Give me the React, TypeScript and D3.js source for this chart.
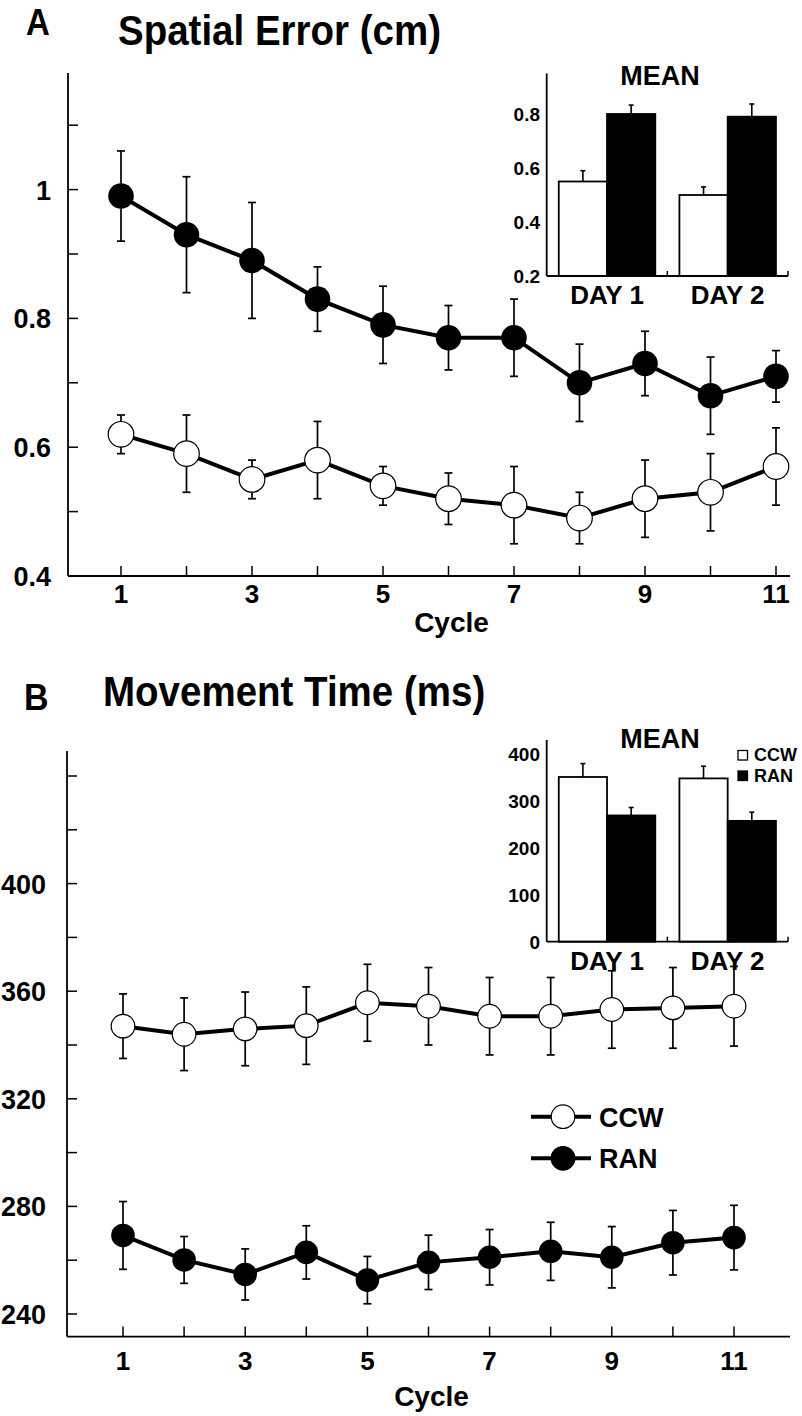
import React from "react";
import * as d3 from "d3";

// ---------- data ----------
const cycles = [1, 2, 3, 4, 5, 6, 7, 8, 9, 10, 11];
const cycleTickLabels = [1, 3, 5, 7, 9, 11];

// Panel A: spatial error (cm)
const errCCW = [0.62, 0.59, 0.55, 0.58, 0.54, 0.52, 0.51, 0.49, 0.52, 0.53, 0.57];
const errCCWSE = [0.03, 0.06, 0.03, 0.06, 0.03, 0.04, 0.06, 0.04, 0.06, 0.06, 0.06];
const errRAN = [0.99, 0.93, 0.89, 0.83, 0.79, 0.77, 0.77, 0.70, 0.73, 0.68, 0.71];
const errRANSE = [0.07, 0.09, 0.09, 0.05, 0.06, 0.05, 0.06, 0.06, 0.05, 0.06, 0.04];
const errYTicks = [0.4, 0.5, 0.6, 0.7, 0.8, 0.9, 1.0, 1.1];
const errYLabels = [0.4, 0.6, 0.8, 1.0];

// Panel A inset: mean per day
const days = ["DAY 1", "DAY 2"];
const errMeanCCW = [0.55, 0.5];
const errMeanCCWSE = [0.04, 0.03];
const errMeanRAN = [0.8, 0.79];
const errMeanRANSE = [0.033, 0.047];
const errInsetTicks = [0.2, 0.4, 0.6, 0.8];

// Panel B: movement time (ms)
const mtCCW = [347, 344, 346, 347.2, 355.7, 354.4, 350.7, 350.7, 353.2, 353.8, 354.4];
const mtCCWSE = [12, 13.5, 13.7, 14.4, 14.3, 14.4, 14.4, 14.4, 14.4, 15, 14.8];
const mtRAN = [269.2, 260.1, 254.7, 262.9, 252.6, 259.2, 261.1, 263.3, 261.1, 266.5, 268.4];
const mtRANSE = [12.6, 8.7, 9.5, 9.9, 8.8, 10.1, 10.3, 10.8, 11.4, 12, 12];
const mtYTicks = [240, 260, 280, 300, 320, 340, 360, 380, 400, 420, 440];
const mtYLabels = [240, 280, 320, 360, 400];

// Panel B inset
const mtMeanCCW = [351, 348];
const mtMeanCCWSE = [28.6, 26];
const mtMeanRAN = [269, 257.5];
const mtMeanRANSE = [17, 18.5];
const mtInsetTicks = [0, 100, 200, 300, 400];

const legendLabels = ["CCW", "RAN"];

const FONT = "'Liberation Sans', Arial, Helvetica, sans-serif";

type PanelProps = {
  x: d3.ScaleLinear<number, number>;
  y: d3.ScaleLinear<number, number>;
  axisLeft: number;
  axisRight: number;
  axisTopVal: number;
  axisBottomVal: number;
  yTicks: number[];
  yLabels: number[];
  fmt: (v: number) => string;
  labelRight: number;
  ccw: number[];
  ccwSE: number[];
  ran: number[];
  ranSE: number[];
  r: number;
  tickBaseline: number;
  cycleBaseline: number;
};

function LinePanel(p: PanelProps) {
  const yB = p.y(p.axisBottomVal);
  const yT = p.y(p.axisTopVal);
  const line = (vals: number[]) =>
    d3
      .line<number>()
      .x((_, i) => p.x(cycles[i]))
      .y((d) => p.y(d))(vals) || "";
  const errBars = (vals: number[], se: number[], key: string) =>
    vals.map((v, i) => {
      const cx = p.x(cycles[i]);
      const y1 = p.y(v + se[i]);
      const y2 = p.y(v - se[i]);
      return (
        <g key={key + i} stroke="#000" strokeWidth={1.7}>
          <line x1={cx} x2={cx} y1={y1} y2={y2} />
          <line x1={cx - 4} x2={cx + 4} y1={y1} y2={y1} />
          <line x1={cx - 4} x2={cx + 4} y1={y2} y2={y2} />
        </g>
      );
    });
  return (
    <g>
      {/* axes */}
      <line x1={p.axisLeft} x2={p.axisLeft} y1={yT} y2={yB} stroke="#000" strokeWidth={1.8} />
      <line x1={p.axisLeft} x2={p.axisRight} y1={yB} y2={yB} stroke="#000" strokeWidth={1.8} />
      {p.yTicks.map((t) => (
        <line key={"yt" + t} x1={p.axisLeft} x2={p.axisLeft + 10} y1={p.y(t)} y2={p.y(t)} stroke="#000" strokeWidth={1.5} />
      ))}
      {p.yLabels.map((t) => (
        <text key={"yl" + t} x={p.labelRight} y={p.y(t) + 10} textAnchor="end" fontSize={27} fontWeight="bold" fontFamily={FONT}>
          {p.fmt(t)}
        </text>
      ))}
      {cycles.map((c) => (
        <line key={"xt" + c} x1={p.x(c)} x2={p.x(c)} y1={yB} y2={yB - 10} stroke="#000" strokeWidth={1.5} />
      ))}
      {cycleTickLabels.map((c) => (
        <text key={"xl" + c} x={p.x(c)} y={p.tickBaseline} textAnchor="middle" fontSize={26} fontWeight="bold" fontFamily={FONT}>
          {c}
        </text>
      ))}
      <text x={p.x(6) + 3} y={p.cycleBaseline} textAnchor="middle" fontSize={28} fontWeight="bold" fontFamily={FONT}>
        Cycle
      </text>
      {/* data */}
      {errBars(p.ran, p.ranSE, "re")}
      {errBars(p.ccw, p.ccwSE, "ce")}
      <path d={line(p.ran)} fill="none" stroke="#000" strokeWidth={4} />
      <path d={line(p.ccw)} fill="none" stroke="#000" strokeWidth={4} />
      {p.ran.map((v, i) => (
        <circle key={"rc" + i} cx={p.x(cycles[i])} cy={p.y(v)} r={p.r} fill="#000" />
      ))}
      {p.ccw.map((v, i) => (
        <circle key={"cc" + i} cx={p.x(cycles[i])} cy={p.y(v)} r={p.r} fill="#fff" stroke="#000" strokeWidth={1.2} />
      ))}
    </g>
  );
}

type InsetProps = {
  y: d3.ScaleLinear<number, number>;
  axisTopVal: number;
  ticks: number[];
  fmt: (v: number) => string;
  ccw: number[];
  ccwSE: number[];
  ran: number[];
  ranSE: number[];
  meanBaseline: number;
  legend?: boolean;
};

function Inset(p: InsetProps) {
  const left = 546.7;
  const right = 788;
  const xb = d3.scaleBand<string>().domain(days).range([left, right]).paddingInner(0.2).paddingOuter(0.1);
  const bw = xb.bandwidth() / 2;
  const y0 = p.y(p.ticks[0]);
  const yT = p.y(p.axisTopVal);
  const mid = (xb(days[0])! + bw * 2 + xb(days[1])!) / 2;
  const bar = (day: string, v: number, se: number, fill: string, off: number, key: string) => {
    const bx = xb(day)! + off;
    const cx = bx + bw / 2;
    return (
      <g key={key}>
        <line x1={cx} x2={cx} y1={p.y(v)} y2={p.y(v + se)} stroke="#000" strokeWidth={1.6} />
        <line x1={cx - 2.5} x2={cx + 2.5} y1={p.y(v + se)} y2={p.y(v + se)} stroke="#000" strokeWidth={1.6} />
        <rect x={bx} y={p.y(v)} width={bw} height={y0 - p.y(v)} fill={fill} stroke="#000" strokeWidth={1.8} />
      </g>
    );
  };
  return (
    <g>
      {days.map((d, i) => bar(d, p.ccw[i], p.ccwSE[i], "#fff", 0, "c" + i))}
      {days.map((d, i) => bar(d, p.ran[i], p.ranSE[i], "#000", bw, "r" + i))}
      <line x1={left} x2={left} y1={yT} y2={y0} stroke="#000" strokeWidth={1.8} />
      <line x1={left} x2={right} y1={y0} y2={y0} stroke="#000" strokeWidth={1.8} />
      {[mid, right].map((tx, i) => (
        <line key={"it" + i} x1={tx} x2={tx} y1={y0} y2={y0 - 5} stroke="#000" strokeWidth={1.5} />
      ))}
      {p.ticks.map((t) => (
        <text key={"il" + t} x={540} y={p.y(t) + 7} textAnchor="end" fontSize={19} fontWeight="bold" fontFamily={FONT}>
          {p.fmt(t)}
        </text>
      ))}
      {days.map((d) => (
        <text key={d} x={xb(d)! + bw} y={y0 + 28} textAnchor="middle" fontSize={26} fontWeight="bold" fontFamily={FONT}>
          {d}
        </text>
      ))}
      <text x={660} y={p.meanBaseline} textAnchor="middle" fontSize={27} fontWeight="bold" fontFamily={FONT}>
        MEAN
      </text>
      {p.legend &&
        legendLabels.map((l, i) => (
          <g key={l}>
            <rect x={738} y={750.5 + i * 20.5} width={9.5} height={9.5} fill={i === 0 ? "#fff" : "#000"} stroke="#000" strokeWidth={1.3} />
            <text x={754} y={761 + i * 21} fontSize={18} fontWeight="bold" fontFamily={FONT}>
              {l}
            </text>
          </g>
        ))}
    </g>
  );
}

function Title({ x, y, size, text }: { x: number; y: number; size: number; text: string }) {
  return (
    <text transform={`translate(${x},${y}) scale(1,1.1)`} fontSize={size} fontWeight="bold" fontFamily={FONT}>
      {text}
    </text>
  );
}

export default function App() {
  // Panel A scales
  const xA = d3.scaleLinear().domain([1, 11]).range([121, 776]);
  const yA = d3.scaleLinear().domain([0.4, 1.1]).range([576, 125.2]);
  // Panel A inset
  const yAi = d3.scaleLinear().domain([0.2, 0.8]).range([276, 114]);
  // Panel B scales
  const xB = d3.scaleLinear().domain([1, 11]).range([123, 734]);
  const yB = d3.scaleLinear().domain([240, 440]).range([1314, 776]);
  // Panel B inset
  const yBi = d3.scaleLinear().domain([0, 400]).range([941.7, 754]);

  const fmtA = (v: number) => (v === 1 ? "1" : v.toFixed(1));
  const fmtInt = (v: number) => String(v);

  return (
    <svg width={802} height={1416} style={{ position: "absolute", left: 0, top: 0, background: "#fff" }}>
      <rect width={802} height={1416} fill="#fff" />
      {/* Panel A */}
      <Title x={26} y={35} size={33} text="A" />
      <Title x={118} y={45} size={38.5} text="Spatial Error (cm)" />
      <Inset y={yAi} axisTopVal={0.95} ticks={errInsetTicks} fmt={(v) => v.toFixed(1)} ccw={errMeanCCW} ccwSE={errMeanCCWSE} ran={errMeanRAN} ranSE={errMeanRANSE} meanBaseline={85} />
      <LinePanel x={xA} y={yA} axisLeft={68} axisRight={790} axisTopVal={1.181} axisBottomVal={0.4} yTicks={errYTicks} yLabels={errYLabels} fmt={fmtA} labelRight={51} ccw={errCCW} ccwSE={errCCWSE} ran={errRAN} ranSE={errRANSE} r={12.8} tickBaseline={603} cycleBaseline={632} />

      {/* Panel B */}
      <Title x={24} y={710} size={34} text="B" />
      <Title x={103} y={706} size={38.5} text="Movement Time (ms)" />
      <Inset y={yBi} axisTopVal={430} ticks={mtInsetTicks} fmt={fmtInt} ccw={mtMeanCCW} ccwSE={mtMeanCCWSE} ran={mtMeanRAN} ranSE={mtMeanRANSE} meanBaseline={748} legend />
      <LinePanel x={xB} y={yB} axisLeft={67} axisRight={790} axisTopVal={449.3} axisBottomVal={231.6} yTicks={mtYTicks} yLabels={mtYLabels} fmt={fmtInt} labelRight={46} ccw={mtCCW} ccwSE={mtCCWSE} ran={mtRAN} ranSE={mtRANSE} r={11.8} tickBaseline={1370} cycleBaseline={1406} />

      {/* Panel B legend */}
      {legendLabels.map((l, i) => {
        const ly = 1116.7 + i * 41.6;
        return (
          <g key={"lg" + l}>
            <line x1={531} x2={591} y1={ly} y2={ly} stroke="#000" strokeWidth={4} />
            <circle cx={563} cy={ly} r={11.8} fill={i === 0 ? "#fff" : "#000"} stroke="#000" strokeWidth={1.2} />
            <text x={599} y={ly + 10} fontSize={27} fontWeight="bold" fontFamily={FONT}>{l}</text>
          </g>
        );
      })}
    </svg>
  );
}
